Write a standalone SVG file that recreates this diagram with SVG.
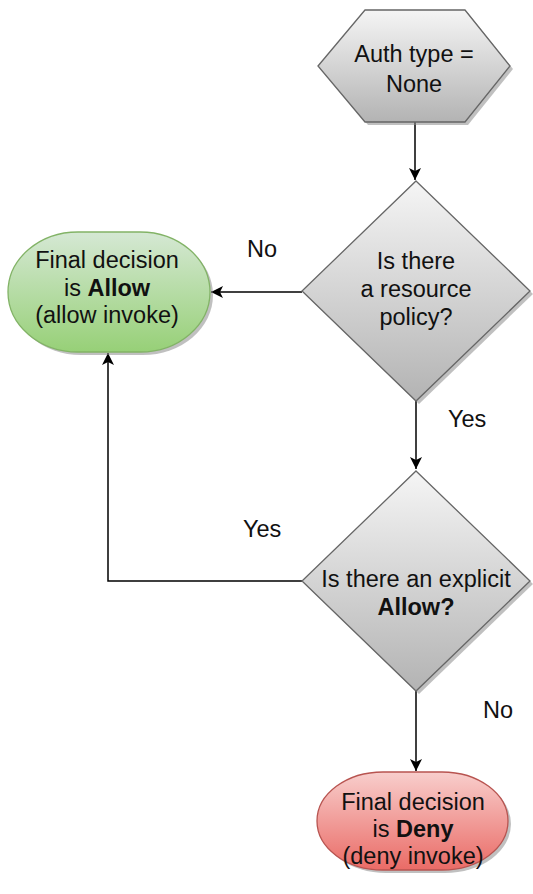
<svg xmlns="http://www.w3.org/2000/svg" width="533" height="894" viewBox="0 0 533 894">
<style>
text{font-family:"Liberation Sans",Arial,sans-serif;font-size:23.5px;fill:#111;text-anchor:middle}
.lbl{text-anchor:start}
.gray{fill:url(#gGray);stroke:#666;stroke-width:1.3}
.green{fill:url(#gGreen);stroke:#82b366;stroke-width:1.3}
.red{fill:url(#gRed);stroke:#b85450;stroke-width:1.3}
.shadow{fill:#8c8c8c;opacity:0.55}
.edge{fill:none;stroke:#000;stroke-width:1.5;marker-end:url(#arr)}
</style>
<defs>
<linearGradient id="gGray" x1="0" y1="0" x2="0" y2="1"><stop offset="0" stop-color="#f5f5f5"/><stop offset="1" stop-color="#b3b3b3"/></linearGradient>
<linearGradient id="gGreen" x1="0" y1="0" x2="0" y2="1"><stop offset="0" stop-color="#d5e8d4"/><stop offset="1" stop-color="#97d077"/></linearGradient>
<linearGradient id="gRed" x1="0" y1="0" x2="0" y2="1"><stop offset="0" stop-color="#f8cecc"/><stop offset="1" stop-color="#ea6b66"/></linearGradient>
<marker id="arr" markerUnits="userSpaceOnUse" markerWidth="14" markerHeight="12" refX="12" refY="6" orient="auto"><path d="M0,0 L12,6 L0,12 L3,6 z" fill="#000"/></marker>
</defs>
<g id="connectors">
<path class="edge" d="M415,122 L415,180"/>
<path class="edge" d="M302,292 L211,292"/>
<path class="edge" d="M416,401 L416,469"/>
<path class="edge" d="M302,581 L108,581 L108,353"/>
<path class="edge" d="M416,691 L416,771"/>
</g>
<g id="start">
<polygon class="shadow" points="321,69 368,13 468,13 513,69 468,125 368,125"/>
<polygon class="gray" points="318,66 365,10 465,10 510,66 465,122 365,122"/>
<text x="414" y="62">Auth type =</text>
<text x="414" y="92">None</text>
</g>
<g id="q1">
<polygon class="shadow" points="419,184 533,294 419,404 305,294"/>
<polygon class="gray" points="416,181 530,291 416,401 302,291"/>
<text x="416" y="269">Is there</text>
<text x="416" y="297">a resource</text>
<text x="416" y="325">policy?</text>
</g>
<g id="allow">
<rect class="shadow" x="11" y="235" width="202" height="120" rx="70" ry="60"/>
<rect class="green" x="8" y="232" width="202" height="120" rx="70" ry="60"/>
<text x="107" y="268">Final decision</text>
<text x="107" y="296">is <tspan font-weight="bold">Allow</tspan></text>
<text x="107" y="323">(allow invoke)</text>
</g>
<g id="q2">
<polygon class="shadow" points="419,474 533,584 419,694 305,584"/>
<polygon class="gray" points="416,471 530,581 416,691 302,581"/>
<text x="416" y="587">Is there an explicit</text>
<text x="416" y="615" font-weight="bold">Allow?</text>
</g>
<g id="deny">
<rect class="shadow" x="320" y="775" width="191" height="98" rx="66" ry="49"/>
<rect class="red" x="317" y="772" width="191" height="98" rx="66" ry="49"/>
<text x="413" y="810">Final decision</text>
<text x="413" y="837">is <tspan font-weight="bold">Deny</tspan></text>
<text x="413" y="864">(deny invoke)</text>
</g>
<g id="labels">
<text class="lbl" x="247" y="257">No</text>
<text class="lbl" x="448" y="427">Yes</text>
<text class="lbl" x="243" y="537">Yes</text>
<text class="lbl" x="483" y="718">No</text>
</g>
</svg>
